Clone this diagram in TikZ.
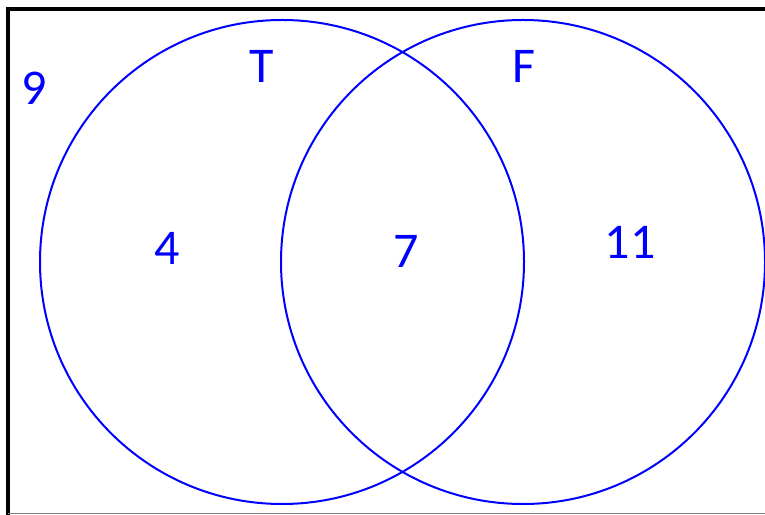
\documentclass[tikz,border=0pt]{standalone}
\usepackage{fontspec}
\setmainfont{Carlito}
\usepackage{xcolor}
\usepackage{tikz}
\definecolor{SetBlue}{RGB}{0,0,255}
\definecolor{FrameGray}{gray}{0.5}

\begin{document}
\begin{tikzpicture}[
  x=1pt,y=1pt,
  setcircle/.style={draw=SetBlue,line width=2pt,circle,minimum size=484pt,inner sep=0pt},
  count/.style={text=SetBlue,font=\fontsize{50}{60}\selectfont,inner sep=0pt},
]
  \useasboundingbox (0,0) rectangle (765,514);
  % frame of the universe
  \draw[line width=4pt] (8,-2) -- (8,505) -- (770,505);
  \draw[FrameGray,line width=1pt] (8,0.5) -- (765,0.5);

  \node[setcircle] (T) at (282,252) {};
  \node[setcircle] (F) at (523,252) {};

  \node[count] (labT) at (262,448) {T};
  \node[count] (labF) at (524,448) {F};
  \node[count] (outside) at (34,426) {9};
  \node[count] (onlyT) at (167,266) {4};
  \node[count] (both) at (406,263) {7};
  \node[count] (onlyF) at (630,272) {11};
\end{tikzpicture}
\end{document}
